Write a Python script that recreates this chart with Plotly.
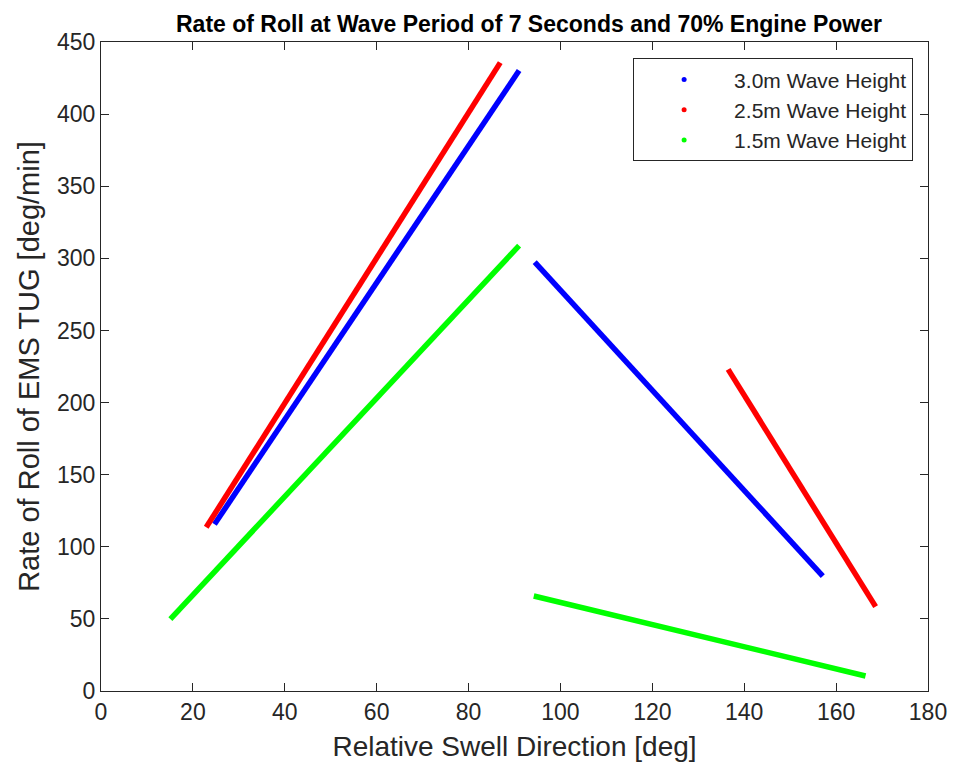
import plotly.graph_objects as go

# Series data (two segments per series, separated by None)
names = ["3.0m Wave Height", "2.5m Wave Height", "1.5m Wave Height"]
colors = ["#0000FF", "#FF0000", "#00FF00"]
blue_x = [24.7, 91.0, None, 94.4, 157.1]
blue_y = [115.6, 430.2, None, 297.3, 79.7]
red_x = [22.9, 86.9, None, 136.5, 168.6]
red_y = [113.5, 435.7, None, 223.0, 58.5]
green_x = [15.1, 91.0, None, 94.2, 166.4]
green_y = [49.9, 308.8, None, 65.9, 10.4]

x_ticks = [0, 20, 40, 60, 80, 100, 120, 140, 160, 180]
y_ticks = [0, 50, 100, 150, 200, 250, 300, 350, 400, 450]

series = [(blue_x, blue_y), (red_x, red_y), (green_x, green_y)]

fig = go.Figure()
for (xs, ys), c in zip(series, colors):
    fig.add_trace(go.Scatter(x=xs, y=ys, mode="lines", line=dict(color=c, width=5.5),
                             showlegend=False, hoverinfo="skip"))
for c, n in zip(colors, names):
    fig.add_trace(go.Scatter(x=[None], y=[None], mode="markers", name=n,
                             marker=dict(color=c, size=5)))

axis_common = dict(showgrid=False, zeroline=False, showline=True, linecolor="#262626",
                   linewidth=1, mirror="allticks", ticks="inside", ticklen=8,
                   tickcolor="#262626", tickfont=dict(size=23, color="#262626"))

fig.update_layout(
    width=951, height=766,
    margin=dict(l=93, r=26, t=34, b=83),
    paper_bgcolor="white", plot_bgcolor="white",
    font=dict(family="Liberation Sans, Arial, sans-serif", color="#262626"),
    xaxis=dict(range=[0, 180], tickvals=x_ticks,
               title=dict(text="Relative Swell Direction [deg]", font=dict(size=28, color="#262626"), standoff=12),
               **axis_common),
    yaxis=dict(range=[0, 450], tickvals=y_ticks,
               title=dict(text="Rate of Roll of EMS TUG [deg/min]", font=dict(size=29, color="#262626"), standoff=8),
               **axis_common),
    legend=dict(x=0.982, y=0.975, xanchor="right", yanchor="top",
                bordercolor="#262626", borderwidth=1, bgcolor="white",
                font=dict(size=21, color="#262626"), itemwidth=90,
                tracegroupgap=0),
)
fig.add_annotation(text="<b>Rate of Roll at Wave Period of 7 Seconds and 70% Engine Power</b>",
                   xref="paper", yref="paper", x=0.518, y=1 + (34 - 16) / 649,
                   xanchor="center", yanchor="middle", showarrow=False,
                   font=dict(size=23, color="black"))

fig.write_html("out.html")
